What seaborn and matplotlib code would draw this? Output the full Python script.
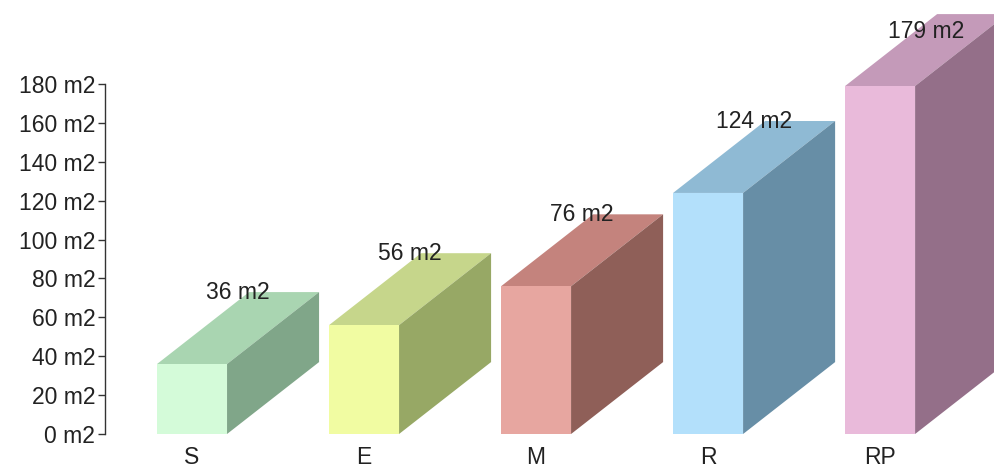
import matplotlib
matplotlib.use('Agg')
import matplotlib.pyplot as plt
import seaborn as sns
import pandas as pd

# --- data ---
categories = ['S', 'E', 'M', 'R', 'RP']
areas = [36, 56, 76, 124, 179]
front_colors = ['#d4fbd9', '#f1fca2', '#e7a6a0', '#b3e0fb', '#e9bada']
top_colors = ['#a9d5b1', '#c6d68b', '#c4837d', '#8fbad4', '#c49ab9']
side_colors = ['#80a689', '#97a865', '#8f5f58', '#678ea6', '#946f89']
y_ticks = list(range(0, 181, 20))

df = pd.DataFrame({'cat': categories, 'area': areas})

sns.set_style('white')
plt.rcParams['font.family'] = ['Liberation Sans', 'DejaVu Sans']

fig = plt.figure(figsize=(9.95, 4.70), dpi=100)
ax = fig.add_axes([105 / 995, 36 / 470, 890 / 995, 434 / 470])

bar_w = 0.407
# depth of the fake 3d box, in data units
dx = 0.535
dy = 37.0
fs = 16.5
ymax = 434 / 1.944

sns.barplot(data=df, x='cat', y='area', hue='cat', palette=front_colors,
            width=bar_w, legend=False, ax=ax, saturation=1, linewidth=0,
            zorder=3)

for i, v in enumerate(areas):
    xl = i - bar_w / 2
    xr = i + bar_w / 2
    # top face
    ax.fill([xl, xr, xr + dx, xl + dx], [v, v, v + dy, v + dy],
            color=top_colors[i], lw=0, zorder=2, clip_on=False)
    # side face
    ax.fill([xr, xr, xr + dx, xr + dx], [0, v, v + dy, dy],
            color=side_colors[i], lw=0, zorder=2, clip_on=False)
    # keep the label inside the figure for the tallest box
    ty = min(v + dy, ymax - 16)
    ax.text(i + dx / 2, ty, f'{v} m2', ha='center', va='center',
            fontsize=fs, color='#222222', zorder=5, clip_on=False)

ax.set_xlim(-0.506, 4.668)
ax.set_ylim(0, ymax)
ax.set_yticks(y_ticks)
ax.set_yticklabels([f'{t} m2' for t in y_ticks])
ax.set_xlabel('')
ax.set_ylabel('')

for s in ['top', 'right', 'bottom']:
    ax.spines[s].set_visible(False)
ax.spines['left'].set_bounds(0, 180)
ax.spines['left'].set_color('#333333')
ax.spines['left'].set_linewidth(1)

ax.tick_params(axis='y', left=True, length=5, width=1, color='#333333',
               labelsize=fs, labelcolor='#222222', pad=2)
ax.tick_params(axis='x', bottom=False, length=0, labelsize=fs,
               labelcolor='#222222', pad=9)

fig.savefig('out.png', dpi=100)
